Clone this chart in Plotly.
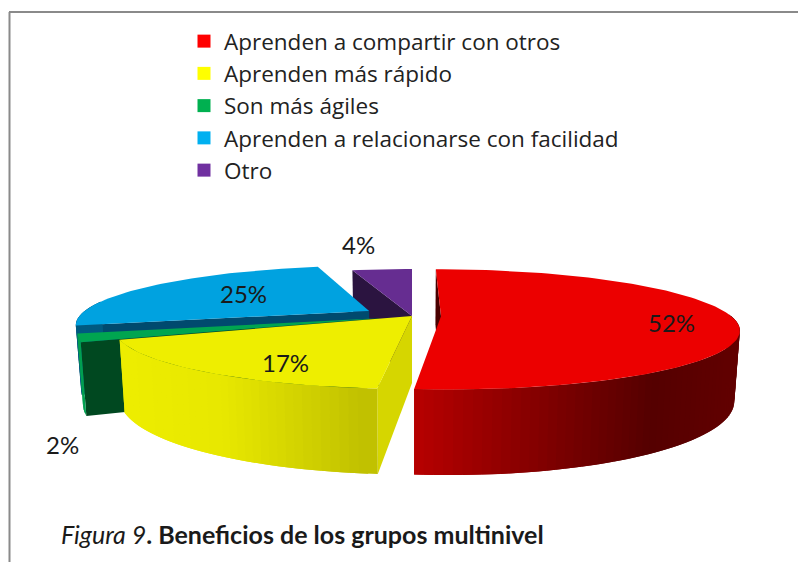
import math
import plotly.graph_objects as go

# ---- data ----
categories = ["Aprenden a compartir con otros", "Aprenden más rápido", "Son más ágiles",
              "Aprenden a relacionarse con facilidad", "Otro"]
values = [51.5, 17.3, 2.2, 25.0, 4.0]
caption_italic = "Figura 9"
caption_bold = ". Beneficios de los grupos multinivel"

# ---- style ----
legend_colors = ["#FF0000", "#FFFF00", "#00B050", "#00B0F0", "#7030A0"]
top_colors = ["#EC0000", "#EEEE00", "#00A550", "#00A2E0", "#662D91"]
face_colors = ["#4A0000", "#D6D600", "#004820", "#004A6E", "#2B1440"]
wall_stops = [
    [(413, "#BC0000"), (660, "#550000"), (738, "#620000")],
    [(120, "#EEEE00"), (230, "#E8E800"), (377, "#C0C000")],
    [(70, "#00A050"), (130, "#00A050")],
    [(70, "#005A80"), (130, "#005A80")],
    [(300, "#3A1A60"), (420, "#3A1A60")],
]
explode = [0.10, 0.0, 0.12, 0.175, 0.0]
label_xy = [(671, 322), (285, 362), (62, 444), (243, 293), (358, 244)]
draw_order = [4, 3, 2, 1, 0]
FONT = "Lato"
LEGEND_FONT = "Open Sans"
X0, Y0, A, B, P, DEPTH, SHRINK = 412, 316, 290, 57.2, 0.2167, 67, 0.983

total = sum(values)
bounds = [0]
for v in values:
    bounds.append(bounds[-1] + 360 * v / total)


def project(i, theta, r=1.0, bottom=False):
    bis = math.radians((bounds[i] + bounds[i + 1]) / 2)
    t = math.radians(theta)
    gx = explode[i] * math.sin(bis) + r * math.sin(t)
    gy = explode[i] * math.cos(bis) + r * math.cos(t)
    w = 1 + P * gy
    sx = X0 + A * gx / w
    sy = Y0 - B * gy / w
    if bottom:
        sx = X0 + (sx - X0) * SHRINK
        sy += DEPTH / w
    return sx, sy


def hex_rgb(h):
    return [int(h[k:k + 2], 16) for k in (1, 3, 5)]


def wall_color(i, x):
    stops = wall_stops[i]
    if x <= stops[0][0]:
        return stops[0][1]
    for (x1, c1), (x2, c2) in zip(stops, stops[1:]):
        if x <= x2:
            f = (x - x1) / (x2 - x1)
            a, b = hex_rgb(c1), hex_rgb(c2)
            return "rgb(%d,%d,%d)" % tuple(a[k] + (b[k] - a[k]) * f for k in range(3))
    return stops[-1][1]


fig = go.Figure()


def poly(pts, color):
    xs = [p[0] for p in pts] + [pts[0][0]]
    ys = [p[1] for p in pts] + [pts[0][1]]
    fig.add_trace(go.Scatter(x=xs, y=ys, mode="lines", fill="toself", fillcolor=color,
                             line=dict(width=0), showlegend=False,
                             hoverinfo="skip"))


for i in draw_order:
    a0, a1 = bounds[i], bounds[i + 1]
    # radial face at the start of the slice
    poly([project(i, a0), project(i, a0, 0), project(i, a0, 0, True), project(i, a0, 1, True)],
         face_colors[i])
    # outer wall, front half only; each strip overlaps the next so no seams show
    lo, hi = max(a0, 88), min(a1, 280)
    if hi > lo:
        n = max(2, int((hi - lo) / 1.5))
        step = (hi - lo) / n
        for k in reversed(range(n)):
            t1 = lo + step * k
            t2 = min(hi, t1 + step * 2)
            p1, p2 = project(i, t1), project(i, t1 + step)
            poly([project(i, t1), project(i, t2), project(i, t2, 1, True), project(i, t1, 1, True)],
                 wall_color(i, (p1[0] + p2[0]) / 2))
    # top face
    n = max(4, int((a1 - a0) / 1.5))
    arc = [project(i, a0 + (a1 - a0) * k / n) for k in range(n + 1)]
    poly([project(i, a0, 0)] + arc, top_colors[i])

# legend entries
for name, color in zip(categories, legend_colors):
    fig.add_trace(go.Scatter(x=[None], y=[None], mode="markers", name=name,
                             marker=dict(symbol="square", size=13, color=color)))

annotations = []
for v, (x, y) in zip(values, label_xy):
    annotations.append(dict(x=x, y=y, xref="x", yref="y", showarrow=False,
                            text=f"{round(v)}%", font=dict(family=FONT, size=24, color="#1a1a1a")))
annotations.append(dict(x=59, y=534, xref="x", yref="y", xanchor="left", showarrow=False,
                        text=f"<i>{caption_italic}</i><b>{caption_bold}</b>",
                        font=dict(family=FONT, size=25, color="#1a1a1a")))

fig.update_layout(
    width=798, height=562, margin=dict(l=0, r=0, t=0, b=0),
    paper_bgcolor="white", plot_bgcolor="white",
    xaxis=dict(range=[0, 798], visible=False, fixedrange=True),
    yaxis=dict(range=[562, 0], visible=False, fixedrange=True),
    legend=dict(x=184 / 798, y=1 - 20 / 562, xanchor="left", yanchor="top",
                font=dict(family=LEGEND_FONT, size=22.5, color="#222222"),
                bgcolor="rgba(0,0,0,0)", traceorder="normal"),
    annotations=annotations,
    shapes=[
        dict(type="line", x0=9.5, x1=9.5, y0=12, y1=562, xref="x", yref="y",
             line=dict(color="#8a8a8a", width=2)),
        dict(type="line", x0=9, x1=798, y0=12, y1=12, xref="x", yref="y",
             line=dict(color="#8a8a8a", width=2)),
    ],
)
fig.write_html("out.html", config={"displayModeBar": False},
               post_script="document.body.style.margin='0';")
